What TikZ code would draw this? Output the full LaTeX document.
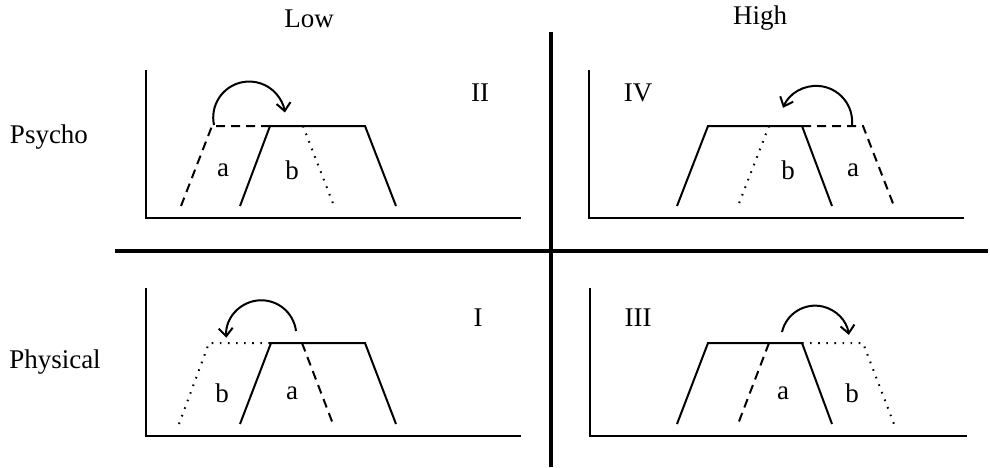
\documentclass[tikz,border=0pt]{standalone}
\usepackage{fontspec}
\setmainfont{Liberation Serif}
\usetikzlibrary{arrows.meta}

\begin{document}
\begin{tikzpicture}[x=1pt, y=-1pt,
  txt/.style={font=\fontsize{27}{32}\selectfont, inner sep=0pt},
  axis/.style={line width=1.5pt},
  edge/.style={line width=2pt},
  dashedge/.style={line width=2pt, dash pattern=on 9pt off 6pt},
  dotedge/.style={line width=2pt, dash pattern=on 1.6pt off 6.5pt},
  divider/.style={line width=4pt},
  shift arrow/.style={line width=2pt, -{Straight Barb[length=8pt, width=14pt]}}
]
\useasboundingbox (0,0) rectangle (990,467);

% Headings
\node[txt] (low) at (309,19) {Low};
\node[txt] (high) at (760,18) {High};
\node[txt] (psycho) at (49,137) {Psycho};
\node[txt] (physical) at (55,362) {Physical};

% Dividers
\draw[divider] (551,32) -- (551,467);
\draw[divider] (115,251) -- (988,251);

% Panel II (Psycho, Low)
\draw[axis] (146,70) -- (146,218) -- (521,218);
\draw[edge] (240,206) -- (270,126) -- (365,126) -- (396,206);
\draw[dashedge] (181,206) -- (212,126) -- (270,126);
\draw[dotedge] (303,126) -- (334,206);
\draw[shift arrow] (214,125) arc[start angle=168, end angle=352, radius=36];
\node[txt] (a2) at (223,170) {a};
\node[txt] (b2) at (292,170) {b};
\node[txt] (n2) at (480,93) {II};

% Panel IV (Psycho, High)
\draw[axis] (589,70) -- (589,218) -- (964,218);
\draw[edge] (677,206) -- (708,126) -- (802,126) -- (832,206);
\draw[dashedge] (802,126) -- (863,126) -- (894,206);
\draw[dotedge] (769,126) -- (738,206);
\draw[shift arrow] (852,125) arc[start angle=5, end angle=-157, radius=36];
\node[txt] (b4) at (788,170) {b};
\node[txt] (a4) at (853,170) {a};
\node[txt] (n4) at (638,93) {IV};

% Panel I (Physical, Low)
\draw[axis] (146,288) -- (146,436) -- (521,436);
\draw[edge] (240,424) -- (271,343) -- (365,343) -- (396,424);
\draw[dotedge] (179,424) -- (209,343) -- (271,343);
\draw[dashedge] (302,343) -- (333,424);
\draw[shift arrow] (296,331) arc[start angle=-7, end angle=-184, radius=35];
\node[txt] (b1) at (222,393) {b};
\node[txt] (a1) at (292,393) {a};
\node[txt] (n1) at (478,318) {I};

% Panel III (Physical, High)
\draw[axis] (590,288) -- (590,436) -- (967,436);
\draw[edge] (677,424) -- (708,343) -- (802,343) -- (832,424);
\draw[dotedge] (802,343) -- (863,343) -- (894,424);
\draw[dashedge] (769,343) -- (738,424);
\draw[shift arrow] (782,332) arc[start angle=193, end angle=352, radius=34];
\node[txt] (a3) at (783,393) {a};
\node[txt] (b3) at (852,393) {b};
\node[txt] (n3) at (638,318) {III};
\end{tikzpicture}
\end{document}
